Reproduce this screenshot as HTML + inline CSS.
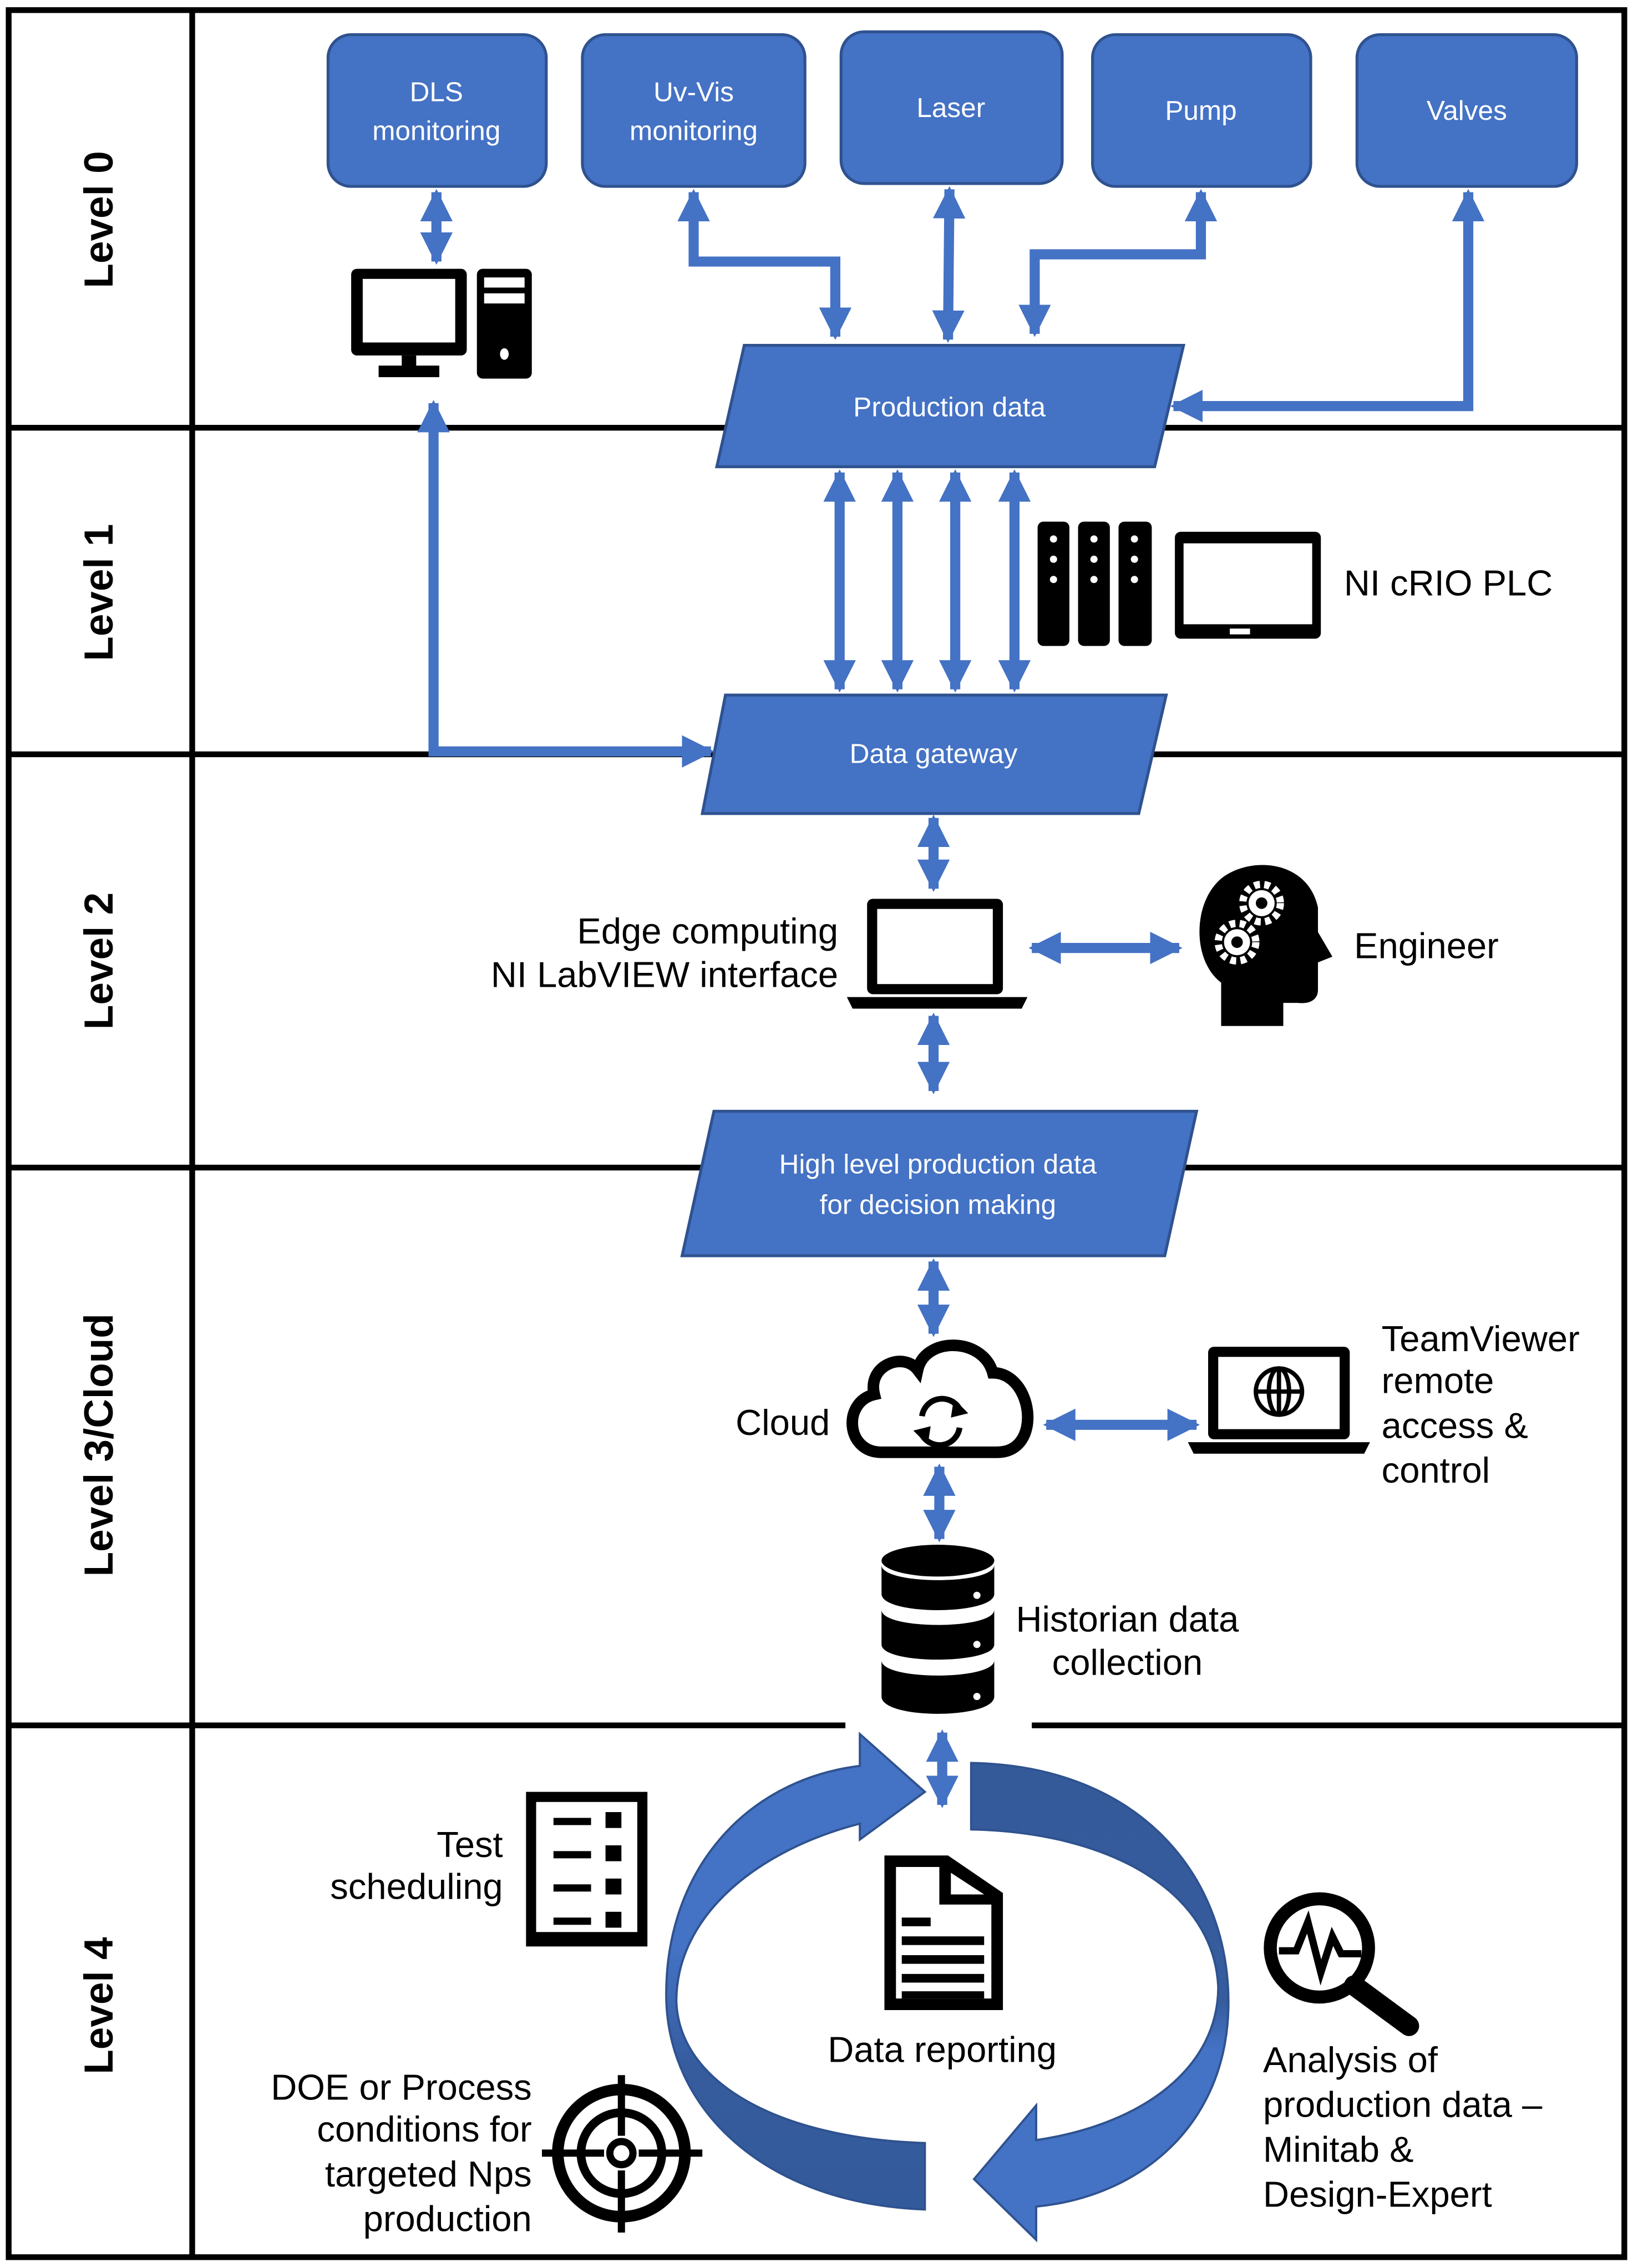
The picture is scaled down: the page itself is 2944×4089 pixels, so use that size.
<!DOCTYPE html>
<html><head><meta charset="utf-8"><style>html,body{margin:0;padding:0;background:#fff}svg{display:block}</style></head>
<body>
<svg width="2944" height="4089" viewBox="0 0 1130 1569.5" preserveAspectRatio="none" xmlns="http://www.w3.org/2000/svg" font-family="Liberation Sans, sans-serif">
<defs>
<marker id="a" viewBox="0 0 10 10" refX="9" refY="5" markerWidth="3.2" markerHeight="3.6" orient="auto-start-reverse" markerUnits="strokeWidth"><path d="M0,0 L10,5 L0,10 Z" fill="#4472C4"/></marker>
<linearGradient id="gl" x1="0" y1="0" x2="0" y2="1"><stop offset="0" stop-color="#4472C4"/><stop offset="0.45" stop-color="#4472C4"/><stop offset="0.7" stop-color="#365C9E"/><stop offset="1" stop-color="#335A9A"/></linearGradient>
<linearGradient id="gr" x1="0" y1="0" x2="0" y2="1"><stop offset="0" stop-color="#355A9A"/><stop offset="0.5" stop-color="#365C9E"/><stop offset="0.6" stop-color="#4472C4"/><stop offset="1" stop-color="#4472C4"/></linearGradient>
</defs>
<rect width="1130" height="1570" fill="#fff"/>
<g stroke="#000" stroke-width="4" fill="none">
<rect x="6" y="7" width="1118" height="1555"/>
<line x1="133" y1="7" x2="133" y2="1562"/>
<line x1="6" y1="296" x2="1124" y2="296"/>
<line x1="6" y1="522" x2="1124" y2="522"/>
<line x1="6" y1="808" x2="1124" y2="808"/>
<line x1="6" y1="1194" x2="585" y2="1194"/>
<line x1="714" y1="1194" x2="1124" y2="1194"/>
</g>
<g font-weight="bold" font-size="28" fill="#000" text-anchor="middle">
<text transform="translate(78,152) rotate(-90)">Level 0</text>
<text transform="translate(78,410) rotate(-90)">Level 1</text>
<text transform="translate(78,665) rotate(-90)">Level 2</text>
<text transform="translate(78,1000) rotate(-90)">Level 3/Cloud</text>
<text transform="translate(78,1388) rotate(-90)">Level 4</text>
</g>
<g fill="#4472C4" stroke="#2F528F" stroke-width="2">
<rect x="227" y="24" width="151" height="105" rx="16"/>
<rect x="403" y="24" width="154" height="105" rx="16"/>
<rect x="582" y="22" width="153" height="105" rx="16"/>
<rect x="756" y="24" width="151" height="105" rx="16"/>
<rect x="939" y="24" width="152" height="105" rx="16"/>
<polygon points="515,239 819,239 799,323 496,323"/>
<polygon points="502,481 807,481 788,563 486,563"/>
<polygon points="494,769 828,769 806,869 472,869"/>
</g>
<g fill="#fff" font-size="19" text-anchor="middle">
<text x="302" y="70">DLS</text><text x="302" y="97">monitoring</text>
<text x="480" y="70">Uv-Vis</text><text x="480" y="97">monitoring</text>
<text x="658" y="81">Laser</text>
<text x="831" y="83">Pump</text>
<text x="1015" y="83">Valves</text>
<text x="657" y="288">Production data</text>
<text x="646" y="528">Data gateway</text>
<text x="649" y="812">High level production data</text>
<text x="649" y="840">for decision making</text>
</g>
<g stroke="#4472C4" stroke-width="7" fill="none" marker-start="url(#a)" marker-end="url(#a)">
<line x1="302" y1="133" x2="302" y2="181"/>
<polyline points="480,133 480,181 578,181 578,233"/>
<line x1="657" y1="131" x2="656" y2="235"/>
<polyline points="831,133 831,176 716,176 716,231"/>
<line x1="581" y1="327" x2="581" y2="477"/>
<line x1="621" y1="327" x2="621" y2="477"/>
<line x1="661" y1="327" x2="661" y2="477"/>
<line x1="702" y1="327" x2="702" y2="477"/>
<line x1="646" y1="566" x2="646" y2="615"/>
<line x1="646" y1="703" x2="646" y2="755"/>
<line x1="714" y1="656" x2="816" y2="656"/>
<line x1="646" y1="873" x2="646" y2="923"/>
<line x1="724" y1="986" x2="828" y2="986"/>
<line x1="650" y1="1015" x2="650" y2="1065"/>
<line x1="652" y1="1199" x2="652" y2="1249"/>
<polyline points="1016,133 1016,281 812,281"/>
<polyline points="300,279 300,520 492,520"/>
</g>
<path d="M640,1529 C530,1525 461,1460 461,1380 C461,1295 515,1232 595,1222 L595,1200 L640,1240 L595,1273 L595,1262 C525,1280 468,1325 468,1385 C470,1442 540,1480 640,1483 Z" fill="url(#gl)" stroke="#2F528F" stroke-width="1.5"/>
<path d="M672,1220 C790,1222 852,1300 850,1390 C848,1470 790,1520 717,1527 L717,1550 L674,1508 L717,1457 L717,1481 C792,1470 843,1430 843,1375 C840,1310 770,1268 672,1266 Z" fill="url(#gr)" stroke="#2F528F" stroke-width="1.5"/>
<g fill="#000">
<rect x="243" y="186" width="80" height="60" rx="4"/><rect x="251" y="193" width="64" height="44" fill="#fff"/>
<rect x="278" y="246" width="10" height="8"/><rect x="262" y="253" width="42" height="8"/>
<rect x="330" y="186" width="38" height="76" rx="4"/>
<rect x="335" y="192" width="28" height="7" fill="#fff"/><rect x="335" y="203" width="28" height="7" fill="#fff"/>
<ellipse cx="349" cy="245" rx="3" ry="4" fill="#fff"/>
</g>
<g fill="#000">
<rect x="718" y="361" width="22" height="86" rx="4"/><rect x="746" y="361" width="22" height="86" rx="4"/><rect x="774" y="361" width="23" height="86" rx="4"/>
<g fill="#fff"><circle cx="729" cy="373" r="2.5"/><circle cx="729" cy="387" r="2.5"/><circle cx="729" cy="401" r="2.5"/><circle cx="757" cy="373" r="2.5"/><circle cx="757" cy="387" r="2.5"/><circle cx="757" cy="401" r="2.5"/><circle cx="785" cy="373" r="2.5"/><circle cx="785" cy="387" r="2.5"/><circle cx="785" cy="401" r="2.5"/></g>
<rect x="813" y="368" width="101" height="74" rx="4"/><rect x="819" y="376" width="89" height="56" fill="#fff"/>
<rect x="851" y="435" width="14" height="4" fill="#fff"/>
</g>
<text x="930" y="412" font-size="25">NI cRIO PLC</text>
<g fill="#000">
<rect x="600" y="622" width="94" height="66" rx="4"/><rect x="607" y="629" width="80" height="52" fill="#fff"/>
<path d="M586,690 L711,690 L707,698 L590,698 Z"/>
</g>
<g font-size="25" fill="#000" text-anchor="end">
<text x="580" y="653">Edge computing</text><text x="580" y="683">NI LabVIEW interface</text>
</g>
<g>
<path d="M845,710 L845,680 C825,665 825,625 845,608 C865,592 905,595 912,628 L912,645 L922,662 L912,666 L912,685 C912,692 906,695 898,694 L888,694 L888,710 Z" fill="#000"/>
<circle cx="873" cy="625" r="13" fill="none" stroke="#fff" stroke-width="5" stroke-dasharray="4 3"/>
<circle cx="873" cy="625" r="9" fill="#fff"/><circle cx="873" cy="625" r="4" fill="#000"/>
<circle cx="856" cy="652" r="13" fill="none" stroke="#fff" stroke-width="5" stroke-dasharray="4 3"/>
<circle cx="856" cy="652" r="9" fill="#fff"/><circle cx="856" cy="652" r="4" fill="#000"/>
</g>
<text x="937" y="663" font-size="25">Engineer</text>
<path d="M610,1005 C585,1005 583,970 605,965 C600,945 625,935 635,948 C640,925 680,925 687,950 C715,950 722,1005 690,1005 Z" fill="#fff" stroke="#000" stroke-width="8"/>
<g stroke="#000" stroke-width="4" fill="none"><path d="M638,980 A14,14 0 0 1 664,975"/><path d="M664,988 A14,14 0 0 1 638,993"/></g>
<path d="M660,968 L670,978 L658,981 Z M642,1000 L632,990 L644,987 Z" fill="#000"/>
<text x="509" y="993" font-size="25">Cloud</text>
<g fill="#000">
<rect x="836" y="932" width="98" height="64" rx="4"/><rect x="843" y="939" width="84" height="50" fill="#fff"/>
<path d="M822,998 L948,998 L944,1006 L826,1006 Z"/>
</g>
<g stroke="#000" stroke-width="3" fill="none"><circle cx="885" cy="963" r="16"/><ellipse cx="885" cy="963" rx="7" ry="16"/><line x1="869" y1="963" x2="901" y2="963"/><line x1="885" y1="947" x2="885" y2="979"/></g>
<g font-size="25" fill="#000"><text x="956" y="935">TeamViewer</text><text x="956" y="964">remote</text><text x="956" y="995">access &amp;</text><text x="956" y="1026">control</text></g>
<g fill="#000">
<ellipse cx="649" cy="1080" rx="39" ry="11"/>
<path d="M610,1083 L610,1103 C610,1118 688,1118 688,1103 L688,1083 C688,1097 610,1097 610,1083 Z"/>
<path d="M610,1114 L610,1138 C610,1152 688,1152 688,1138 L688,1114 C688,1128 610,1128 610,1114 Z"/>
<path d="M610,1149 L610,1174 C610,1190 688,1190 688,1174 L688,1149 C688,1163 610,1163 610,1149 Z"/>
<g fill="#fff"><circle cx="676" cy="1104" r="2.5"/><circle cx="676" cy="1138" r="2.5"/><circle cx="676" cy="1174" r="2.5"/></g>
</g>
<g font-size="25" fill="#000"><text x="703" y="1129">Historian data</text><text x="728" y="1159">collection</text></g>
<g fill="#000">
<rect x="364" y="1240" width="84" height="107"/><rect x="371" y="1247" width="70" height="90" fill="#fff"/>
<rect x="383" y="1258" width="26" height="5"/><rect x="419" y="1254" width="11" height="11"/>
<rect x="383" y="1281" width="26" height="5"/><rect x="419" y="1277" width="11" height="11"/>
<rect x="383" y="1304" width="26" height="5"/><rect x="419" y="1300" width="11" height="11"/>
<rect x="383" y="1327" width="26" height="5"/><rect x="419" y="1323" width="11" height="11"/>
</g>
<g font-size="25" fill="#000" text-anchor="end"><text x="348" y="1285">Test</text><text x="348" y="1314">scheduling</text></g>
<path d="M612,1284 L656,1284 L694,1310 L694,1391 L612,1391 Z" fill="#000"/>
<path d="M620,1292 L650,1292 L650,1318 L686,1318 L686,1383 L620,1383 Z" fill="#fff"/>
<path d="M658,1296 L681,1311 L658,1311 Z" fill="#fff"/>
<g fill="#000"><rect x="624" y="1327" width="20" height="6"/><rect x="624" y="1340" width="57" height="6"/><rect x="624" y="1353" width="57" height="6"/><rect x="624" y="1366" width="57" height="6"/><rect x="624" y="1378" width="57" height="5"/></g>
<text x="652" y="1427" font-size="25" text-anchor="middle">Data reporting</text>
<circle cx="913" cy="1348" r="34" fill="#fff" stroke="#000" stroke-width="9"/>
<line x1="937" y1="1374" x2="975" y2="1402" stroke="#000" stroke-width="14" stroke-linecap="round"/>
<polyline points="885,1350 897,1350 905,1330 914,1365 922,1340 928,1352 942,1352" fill="none" stroke="#000" stroke-width="5"/>
<g font-size="25" fill="#000"><text x="874" y="1434">Analysis of</text><text x="874" y="1465">production data –</text><text x="874" y="1496">Minitab &amp;</text><text x="874" y="1527">Design-Expert</text></g>
<g fill="none" stroke="#000">
<circle cx="430" cy="1490" r="44" stroke-width="8"/>
<circle cx="430" cy="1490" r="28" stroke-width="6"/>
<circle cx="430" cy="1490" r="8" stroke-width="5"/>
<line x1="430" y1="1436" x2="430" y2="1478" stroke-width="5"/><line x1="430" y1="1502" x2="430" y2="1545" stroke-width="5"/>
<line x1="375" y1="1490" x2="418" y2="1490" stroke-width="5"/><line x1="442" y1="1490" x2="486" y2="1490" stroke-width="5"/>
</g>
<g font-size="25" fill="#000" text-anchor="end"><text x="368" y="1453">DOE or Process</text><text x="368" y="1482">conditions for</text><text x="368" y="1513">targeted Nps</text><text x="368" y="1544">production</text></g>
</svg>
</body></html>
